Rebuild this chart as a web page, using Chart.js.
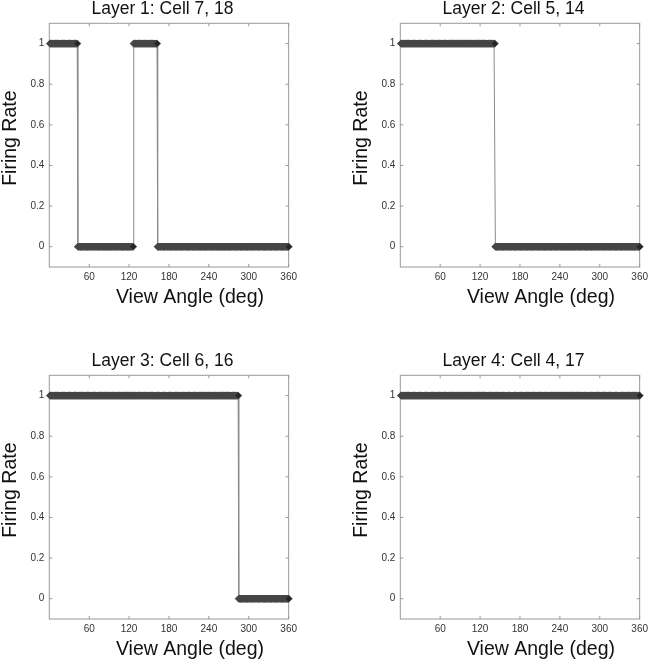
<!DOCTYPE html>
<html>
<head>
<meta charset="utf-8">
<title>Firing rate vs view angle</title>
<script src="https://cdn.jsdelivr.net/npm/chart.js@4.4.1/dist/chart.umd.min.js"></script>
<style>
  html, body { margin: 0; padding: 0; background: #ffffff; }
  #fig { position: relative; width: 652px; height: 660px; }
  .panel { position: absolute; width: 301px; height: 308px; }
</style>
</head>
<body>
<div id="fig">
  <div class="panel" style="left:0px;top:0px"><canvas id="layer1" width="301" height="308"></canvas></div>
  <div class="panel" style="left:351px;top:0px"><canvas id="layer2" width="301" height="308"></canvas></div>
  <div class="panel" style="left:0px;top:352px"><canvas id="layer3" width="301" height="308"></canvas></div>
  <div class="panel" style="left:351px;top:352px"><canvas id="layer4" width="301" height="308"></canvas></div>
</div>
<script>
const panelTitles = ["Layer 1: Cell 7, 18", "Layer 2: Cell 5, 14", "Layer 3: Cell 6, 16", "Layer 4: Cell 4, 17"];
const xAxisLabel = "View Angle (deg)";
const yAxisLabel = "Firing Rate";
const xTickValues = [60, 120, 180, 240, 300, 360];
const yTickValues = [0, 0.2, 0.4, 0.6, 0.8, 1];
const yTickLabels = ["0", "0.2", "0.4", "0.6", "0.8", "1"];

// one sample per degree, 1..360
const viewAngles = Array.from({ length: 360 }, (_, i) => i + 1);

// firing rate per degree; each line is 60 degrees, groups of 10
const ONES = "1111111111 1111111111 1111111111 1111111111 1111111111 1111111111";
const ZEROS = "0000000000 0000000000 0000000000 0000000000 0000000000 0000000000";

const layer1Rates = [
  "1111111111 1111111111 1111111111 1111111111 1100000000 0000000000",
  ZEROS,
  "0000001111 1111111111 1111111111 1111111111 1100000000 0000000000",
  ZEROS,
  ZEROS,
  ZEROS,
];
const layer2Rates = [
  ONES,
  ONES,
  "1111111111 1111111111 1100000000 0000000000 0000000000 0000000000",
  ZEROS,
  ZEROS,
  ZEROS,
];
const layer3Rates = [
  ONES,
  ONES,
  ONES,
  ONES,
  "1111111111 1111111111 1111111111 1111111111 1111000000 0000000000",
  ZEROS,
];
const layer4Rates = [ONES, ONES, ONES, ONES, ONES, ONES];

function toSeries(lines) {
  const digits = lines.join("").replace(/\s/g, "").split("").map(Number);
  return viewAngles.map((a, i) => ({ x: a, y: digits[i] }));
}

const FONT = '"Liberation Sans", Arial, Helvetica, sans-serif';

// box, inward ticks on all four sides and the texts, MATLAB style
const matlabAxesPlugin = {
  id: "matlabAxes",
  beforeDatasetsDraw(chart) {
    const { ctx, chartArea: a, scales } = chart;
    const tick = 3;
    ctx.save();
    ctx.strokeStyle = "#999999";
    ctx.lineWidth = 1;
    ctx.strokeRect(a.left, a.top, a.right - a.left, a.bottom - a.top);
    ctx.beginPath();
    xTickValues.forEach((v) => {
      const px = scales.x.getPixelForValue(v);
      ctx.moveTo(px, a.bottom); ctx.lineTo(px, a.bottom - tick);
      ctx.moveTo(px, a.top); ctx.lineTo(px, a.top + tick);
    });
    yTickValues.forEach((v) => {
      const py = scales.y.getPixelForValue(v);
      ctx.moveTo(a.left, py); ctx.lineTo(a.left + tick, py);
      ctx.moveTo(a.right, py); ctx.lineTo(a.right - tick, py);
    });
    ctx.stroke();
    ctx.restore();
  },
  afterDraw(chart, args, opts) {
    const { ctx, chartArea: a } = chart;
    const cx = (a.left + a.right) / 2;
    const cy = (a.top + a.bottom) / 2;
    ctx.save();
    ctx.fillStyle = "#111111";
    ctx.textAlign = "center";
    ctx.textBaseline = "middle";

    ctx.font = `17.5px ${FONT}`;
    ctx.fillText(opts.title || "", cx - 6.5, a.top - 14);

    ctx.font = `19.5px ${FONT}`;
    ctx.fillText(xAxisLabel, cx + 21, a.bottom + 31);

    ctx.translate(11, cy - 7);
    ctx.rotate(-Math.PI / 2);
    ctx.fillText(yAxisLabel, 0, 0);
    ctx.restore();
  },
};

function makePanel(canvasId, title, rates) {
  const canvas = document.getElementById(canvasId);
  const config = {
    type: "line",
    data: {
      datasets: [{
        data: toSeries(rates),
        borderColor: "#8a8a8a",
        borderWidth: 1,
        tension: 0,
        pointStyle: "rectRot",
        pointRadius: 3.6,
        pointBackgroundColor: "#262626",
        pointBorderColor: "#505050",
        pointBorderWidth: 0.8,
        clip: false,
      }],
    },
    options: {
      responsive: false,
      animation: false,
      events: [],
      layout: { padding: { top: 23.3, right: 8.7, bottom: 0, left: 0 } },
      plugins: {
        legend: { display: false },
        title: { display: false },
        tooltip: { enabled: false },
        matlabAxes: { title },
      },
      scales: {
        x: {
          type: "linear",
          min: 0,
          max: 360,
          afterBuildTicks: (s) => { s.ticks = xTickValues.map((v) => ({ value: v })); },
          afterFit: (s) => { s.height = 41; },
          grid: { display: false, drawTicks: false },
          border: { display: false },
          ticks: { padding: 4, color: "#333333", font: { family: FONT, size: 10 }, maxRotation: 0 },
        },
        y: {
          type: "linear",
          min: -0.1,
          max: 1.1,
          afterBuildTicks: (s) => { s.ticks = yTickValues.map((v) => ({ value: v })); },
          afterFit: (s) => { s.width = 49.3; },
          grid: { display: false, drawTicks: false },
          border: { display: false },
          ticks: {
            padding: 5,
            color: "#333333",
            font: { family: FONT, size: 10 },
            callback: (v, i) => yTickLabels[i],
          },
        },
      },
    },
    plugins: [matlabAxesPlugin],
  };
  return new Chart(canvas.getContext("2d"), config);
}

makePanel("layer1", panelTitles[0], layer1Rates);
makePanel("layer2", panelTitles[1], layer2Rates);
makePanel("layer3", panelTitles[2], layer3Rates);
makePanel("layer4", panelTitles[3], layer4Rates);
</script>
</body>
</html>
